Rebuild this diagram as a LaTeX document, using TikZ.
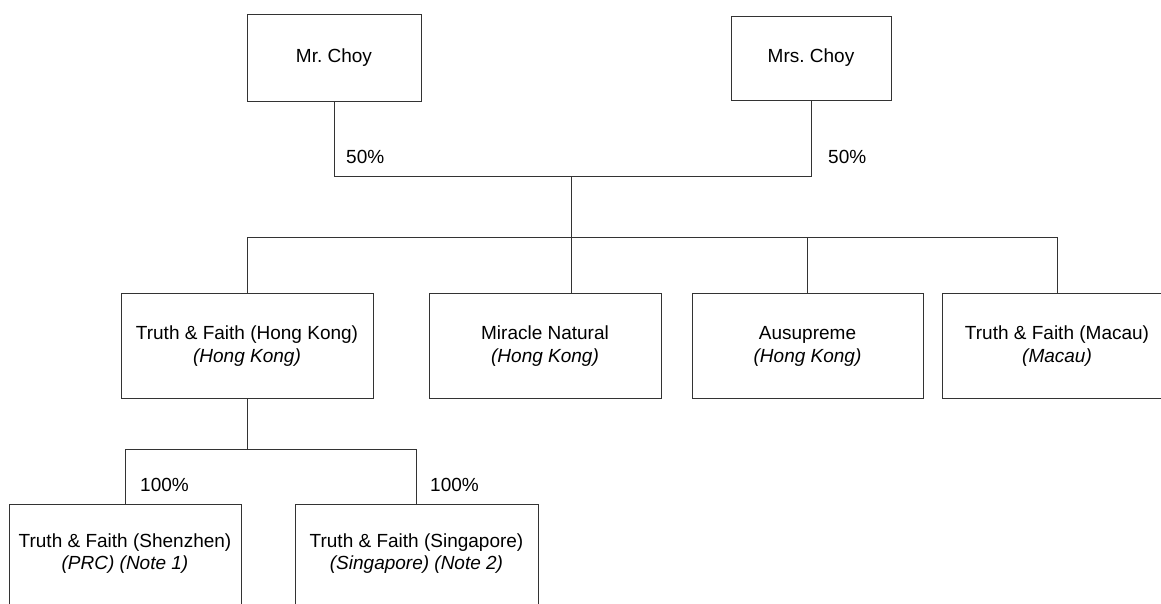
\documentclass[tikz,border=0pt]{standalone}
\usepackage{fontspec}
\setmainfont{Liberation Sans}

\begin{document}
\begin{tikzpicture}[
        x=1pt, y=-1pt,
        every node/.style={font=\fontsize{19}{22.5}\selectfont},
        owner/.style={draw=black!80, line width=0.9pt, inner sep=0pt, align=center},
        firm/.style={owner, text height=69pt, text depth=36pt},
        subfirm/.style={owner, text height=65.5pt, text depth=110pt},
        link/.style={draw=black!80, line width=0.9pt},
        share/.style={inner sep=0pt, anchor=base west}
        ]
        \path[use as bounding box, fill=white] (0,0) rectangle (1161,603);
        \clip (0,0) rectangle (1161,603);

        \node [owner, minimum width=174pt, minimum height=87pt] (mrchoy) at (334,57.5) {Mr.\ Choy};
        \node [owner, minimum width=160pt, minimum height=84pt] (mrschoy) at (811,58) {Mrs.\ Choy};

        \node [firm, minimum width=252pt, anchor=north] (tfhk) at (247,293) {Truth \& Faith (Hong Kong)\\ \textit{(Hong Kong)}};
        \node [firm, minimum width=232pt, anchor=north] (miracle) at (545,293) {Miracle Natural\\ \textit{(Hong Kong)}};
        \node [firm, minimum width=231pt, anchor=north] (ausupreme) at (807.5,293) {Ausupreme\\ \textit{(Hong Kong)}};
        \node [firm, minimum width=230pt, anchor=north] (tfmacau) at (1057,293) {Truth \& Faith (Macau)\\ \textit{(Macau)}};

        \node [subfirm, minimum width=232pt, anchor=north] (tfsz) at (125,504) {Truth \& Faith (Shenzhen)\\ \textit{(PRC) (Note 1)}};
        \node [subfirm, minimum width=243pt, anchor=north] (tfsg) at (416.5,504) {Truth \& Faith (Singapore)\\ \textit{(Singapore) (Note 2)}};

        % junction points of the shareholding lines
        \coordinate (join) at (571,176);
        \coordinate (hub) at (571,237);
        \coordinate (sub) at (247,449);

        \draw[link] (mrchoy.south) |- (mrschoy.south |- join) -- (mrschoy.south);
        \draw[link] (join) -- (join |- miracle.north);
        \draw[link] (tfhk.north) |- (tfmacau.north |- hub) -- (tfmacau.north);
        \draw[link] (ausupreme.north) -- (ausupreme.north |- hub);

        \draw[link] (tfhk.south) -- (sub);
        \draw[link] (tfsz.north) |- (tfsg.north |- sub) -- (tfsg.north);

        \node [share] (pmr) at (346,163) {50\%};
        \node [share] (pmrs) at (828,163) {50\%};
        \node [share] (psz) at (140,491) {100\%};
        \node [share] (psg) at (430,491) {100\%};
    \end{tikzpicture}
\end{document}
